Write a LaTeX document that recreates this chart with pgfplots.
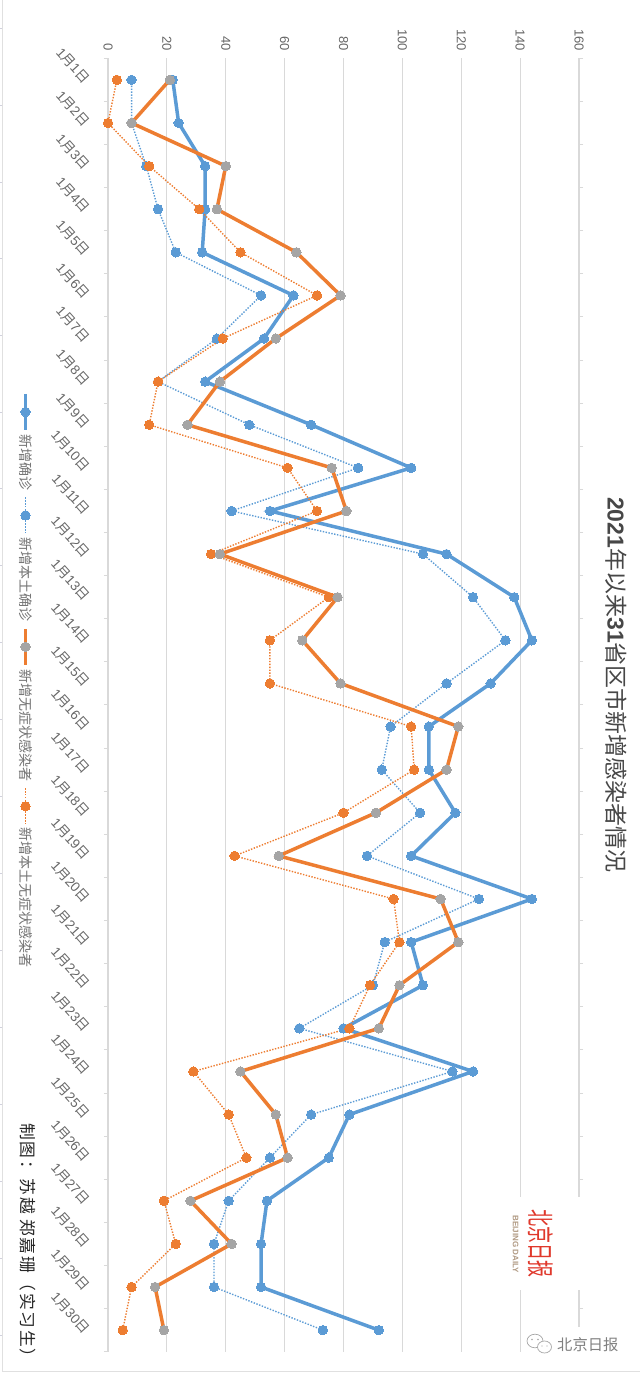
\documentclass[border=0pt]{standalone}
\usepackage{fontspec}
\usepackage{graphicx}
\usepackage{pgfplots}
\pgfplotsset{compat=1.18}
\setmainfont{Liberation Sans}
\newfontfamily\cjk{Noto Sans CJK SC}
\newfontfamily\cjkspaced[LetterSpace=10]{Noto Sans CJK SC}
\definecolor{cblue}{HTML}{5B9BD5}
\definecolor{corange}{HTML}{ED7D31}
\definecolor{cgray}{HTML}{A5A5A5}
\definecolor{cgrid}{HTML}{D9D9D9}
\definecolor{cred}{HTML}{E0382B}
\newcommand\dd[1]{1{\cjk 月}#1{\cjk 日}}
\pgfplotsset{
 solidblue/.style={color=cblue,line width=3.5pt,mark=*,mark size=4.7pt,mark options={solid,fill=cblue,draw=cblue,line width=0pt}},
 dotblue/.style={color=cblue,line width=1.4pt,dash pattern=on 1.4pt off 1.5pt,mark=*,mark size=4.7pt,mark options={solid,fill=cblue,draw=cblue,line width=0pt}},
 solidorange/.style={color=corange,line width=3.5pt,mark=*,mark size=4.7pt,mark options={solid,fill=cgray,draw=cgray,line width=0pt}},
 dotorange/.style={color=corange,line width=1.4pt,dash pattern=on 1.4pt off 1.5pt,mark=*,mark size=4.7pt,mark options={solid,fill=corange,draw=corange,line width=0pt}},
}
\begin{document}
\begin{tikzpicture}
\path[use as bounding box] (0pt,0pt) rectangle (640pt,1373pt);
\begin{axis}[
 at={(108pt,1314.7pt)},anchor=north west,
 scale only axis,width=471pt,height=1293.4pt,
 xmin=0,xmax=160,ymin=0.5,ymax=30.5,y dir=reverse,clip=false,
 axis line style={draw=none},
 xtick={0,20,...,160},
 xmajorgrids,
 major grid style={cgrid,line width=1.2pt},
 major tick length=0pt,
 xticklabel pos=upper,
 /pgf/number format/assume math mode=true,
 xticklabel style={yshift=4pt,rotate=-90,anchor=east,font=\fontsize{13}{15}\selectfont,text=black!60},
 ytick={1,...,30},
 yticklabels={\dd{1},\dd{2},\dd{3},\dd{4},\dd{5},\dd{6},\dd{7},\dd{8},\dd{9},\dd{10},\dd{11},\dd{12},\dd{13},\dd{14},\dd{15},\dd{16},\dd{17},\dd{18},\dd{19},\dd{20},\dd{21},\dd{22},\dd{23},\dd{24},\dd{25},\dd{26},\dd{27},\dd{28},\dd{29},\dd{30}},
 yticklabel style={xshift=-18.6pt,yshift=-4pt,rotate=-48,anchor=east,font=\fontsize{13.5}{15}\selectfont,text=black!60},
 minor ytick={0.5,1.5,...,30.5},
 minor tick length=4pt,
 tick align=outside,
 minor tick style={cgrid,line width=1pt},
]
\addplot[solidblue] table {
22 1
24 2
33 3
33 4
32 5
63 6
53 7
33 8
69 9
103 10
55 11
115 12
138 13
144 14
130 15
109 16
109 17
118 18
103 19
144 20
103 21
107 22
80 23
124 24
82 25
75 26
54 27
52 28
52 29
92 30
};
\addplot[dotblue] table {
8 1
8 2
13 3
17 4
23 5
52 6
37 7
17 8
48 9
85 10
42 11
107 12
124 13
135 14
115 15
96 16
93 17
106 18
88 19
126 20
94 21
90 22
65 23
117 24
69 25
55 26
41 27
36 28
36 29
73 30
};
\addplot[dotorange] table {
3 1
0 2
14 3
31 4
45 5
71 6
39 7
17 8
14 9
61 10
71 11
35 12
75 13
55 14
55 15
103 16
104 17
80 18
43 19
97 20
99 21
89 22
82 23
29 24
41 25
47 26
19 27
23 28
8 29
5 30
};
\addplot[solidorange] table {
21 1
8 2
40 3
37 4
64 5
79 6
57 7
38 8
27 9
76 10
81 11
38 12
78 13
66 14
79 15
119 16
115 17
91 18
58 19
113 20
119 21
99 22
92 23
45 24
57 25
61 26
28 27
42 28
16 29
19 30
};
\end{axis}
% legend: a hidden axis in a rotated scope
\begin{scope}[shift={(25.5pt,981pt)},rotate=-90,transform shape]
\begin{axis}[
 at={(0pt,0pt)},anchor=south west,
 hide axis,scale only axis,width=1pt,height=1pt,xmin=0,xmax=1,ymin=0,ymax=1,
 legend columns=-1,
 legend style={at={(0pt,0pt)},anchor=west,draw=none,fill=none,inner sep=0pt,
   nodes={transform shape,inner sep=0pt,font=\fontsize{14}{16}\selectfont\cjk,text=black!55},
   /tikz/every odd column/.append style={column sep=3pt},
   /tikz/every even column/.append style={column sep=6pt}},
 legend image code/.code={\draw[mark repeat=2,mark phase=2,#1] plot coordinates {(0pt,0pt)(18pt,0pt)(36pt,0pt)};},
]
\addlegendimage{solidblue}\addlegendentry{新增确诊}
\addlegendimage{dotblue}\addlegendentry{新增本土确诊}
\addlegendimage{solidorange}\addlegendentry{新增无症状感染者}
\addlegendimage{dotorange}\addlegendentry{新增本土无症状感染者}
\end{axis}
\end{scope}
\begin{scope}[x=1pt,y=1pt]
% title
\node[rotate=-90,anchor=west,inner sep=0pt,text=black!72,font=\fontsize{23}{25}\selectfont] at (616.5,1373-497)
  {\textbf{2021}{\cjk 年以来}\textbf{31}{\cjk 省区市新增感染者情况}};
% credit
\node[rotate=-90,anchor=west,inner sep=0pt,text=black!85,font=\fontsize{16.8}{18}\selectfont\cjkspaced] at (27.5,1373-1123)
  {制图：苏越 郑嘉珊（实习生）};
% logo
\fill[white] (485,1373-1197) rectangle (600,1373-1290);
\node[rotate=-90,inner sep=0pt,text=cred,font=\fontsize{27}{29}\selectfont\cjk] at (541,1373-1243.5)
  {\scalebox{0.63}[1]{北京日报}};
\node[rotate=-90,inner sep=0pt,text=brown!45!gray!80,font=\fontsize{8}{9}\selectfont\bfseries] at (515.5,1373-1244)
  {BEIJING DAILY};
% watermark
\fill[white] (572,0) rectangle (590,1373-1327);
\fill[white] (524,0) rectangle (640,1373-1352);
\begin{scope}[draw=black!35,line width=0.7pt,fill=white]
 \filldraw (535,1373-1341) ellipse (8 and 6.8);
 \filldraw (544.5,1373-1347) ellipse (7 and 6);
 \fill[black!35] (532,1373-1339.5) circle (0.9) (538,1373-1339.5) circle (0.9) (542,1373-1346) circle (0.7) (547,1373-1346) circle (0.7);
\end{scope}
\node[anchor=west,inner sep=0pt,text=black!50,font=\fontsize{15.3}{17}\selectfont\cjk] at (557,1373-1345) {北京日报};
% frame remnants
\draw[black!12,line width=0.8pt] (2,1373)--(2,1.5)--(640,1.5);
\foreach \t in {28,105,182,258,335,412,488,565,642,719,796,873,950,1027,1104,1181,1258,1335}
  \draw[blue!25!black!18,line width=0.7pt] (0,1373-\t)--(2,1373-\t);
\end{scope}
\end{tikzpicture}
\end{document}
